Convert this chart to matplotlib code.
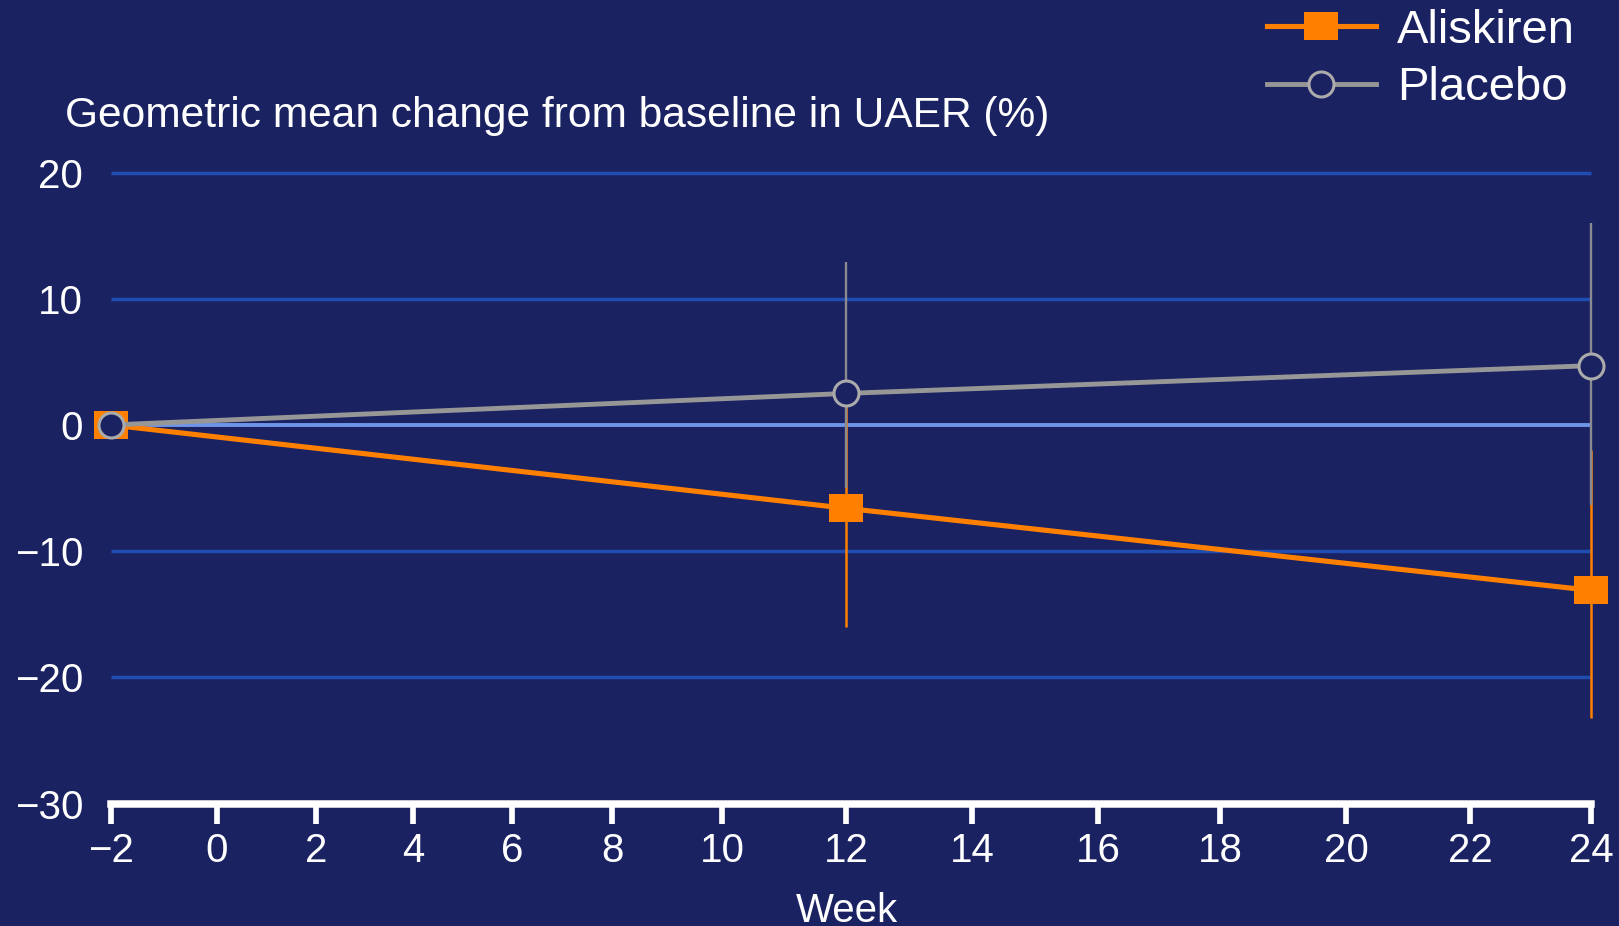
import numpy as np
import matplotlib
matplotlib.use("Agg")
import matplotlib.pyplot as plt
from matplotlib.path import Path
from matplotlib.lines import Line2D
from matplotlib.legend_handler import HandlerLine2D

# ---- data -------------------------------------------------------------
weeks = [-2, 12, 24]

aliskiren_mean = [0.0, -6.6, -13.1]
aliskiren_lower = [0.0, -16.0, -23.2]
aliskiren_upper = [0.0, 3.0, -2.0]

placebo_mean = [0.0, 2.5, 4.7]
placebo_lower = [0.0, -5.0, -6.3]
placebo_upper = [0.0, 12.9, 16.0]

series_names = ["Aliskiren", "Placebo"]
x_ticks = list(range(-2, 25, 2))
y_ticks = [-30, -20, -10, 0, 10, 20]
title_text = "Geometric mean change from baseline in UAER (%)"
x_label = "Week"

# ---- style --------------------------------------------------------------
BG = "#1a2261"
GRID = "#1f4db2"
ZERO = "#6f95e8"
ORANGE = "#ff8000"
GREY_LINE = "#979797"
GREY_EDGE = "#ababab"
GREY_ERR = "#8a8a8f"
WHITE = "white"

plt.rcParams["font.family"] = ["Liberation Sans", "DejaVu Sans"]

W, H, DPI = 1619, 926, 100
fig = plt.figure(figsize=(W / DPI, H / DPI), dpi=DPI, facecolor=BG)

# The week axis of this chart is not evenly spaced: the printed tick
# spacing widens after week 10.  A piecewise-linear scale reproduces it.
_scale_w = [-102] + x_ticks + [124]
_scale_p = [111 - 100 * 52] + [111, 217, 316, 413, 512, 612, 722, 846,
                               972, 1098, 1220, 1346, 1470, 1591] + [1591 + 100 * 62]


def _fwd(w):
    return np.interp(np.asarray(w, float), _scale_w, _scale_p)


def _inv(p):
    return np.interp(np.asarray(p, float), _scale_p, _scale_w)


left_px, right_px = 111, 1591
top_px, bottom_px = 172.5, 803.7
ax = fig.add_axes([left_px / W, 1 - bottom_px / H,
                   (right_px - left_px) / W, (bottom_px - top_px) / H])
ax.set_facecolor(BG)
ax.set_xscale("function", functions=(_fwd, _inv))
ax.set_xlim(x_ticks[0], x_ticks[-1])
ax.set_ylim(y_ticks[0], y_ticks[-1])

# horizontal reference lines
grid_levels = [v for v in y_ticks if v not in (0, y_ticks[0])]
ax.hlines(grid_levels, x_ticks[0], x_ticks[-1], colors=GRID,
          linewidth=2.5, zorder=1, clip_on=False)
ax.hlines([0], x_ticks[0], x_ticks[-1], colors=ZERO,
          linewidth=2.8, zorder=1.5, clip_on=False)

# rectangular marker (slightly wider than tall)
rect = Path([(-0.5, -0.415), (0.5, -0.415), (0.5, 0.415), (-0.5, 0.415),
             (-0.5, -0.415)], closed=True)


def yerr(mean, lo, hi):
    m = np.asarray(mean)
    return [m - np.asarray(lo), np.asarray(hi) - m]


ax.errorbar(weeks, aliskiren_mean,
            yerr=yerr(aliskiren_mean, aliskiren_lower, aliskiren_upper),
            fmt="none", ecolor=ORANGE, elinewidth=1.8, capsize=0,
            zorder=3, clip_on=False)
ali_line, = ax.plot(weeks, aliskiren_mean, color=ORANGE, linewidth=3.7,
                    marker=rect, markersize=23.8, markeredgewidth=0,
                    markerfacecolor=ORANGE, zorder=4, clip_on=False,
                    label=series_names[0])

ax.errorbar(weeks, placebo_mean,
            yerr=yerr(placebo_mean, placebo_lower, placebo_upper),
            fmt="none", ecolor=GREY_ERR, elinewidth=1.7, capsize=0,
            zorder=5, clip_on=False)
pla_line, = ax.plot(weeks, placebo_mean, color=GREY_LINE, linewidth=3.5,
                    marker="o", markersize=18, markeredgewidth=2.2,
                    markeredgecolor=GREY_EDGE, markerfacecolor=BG,
                    zorder=6, clip_on=False, label=series_names[1])

# axes frame: only the bottom axis line
for side in ("left", "right", "top"):
    ax.spines[side].set_visible(False)
ax.spines["bottom"].set_color(WHITE)
ax.spines["bottom"].set_linewidth(5.4)
ax.spines["bottom"].set_zorder(7)

ax.set_xticks(x_ticks)
ax.set_xticklabels([str(t).replace("-", "\u2212") for t in x_ticks])
ax.set_yticks(y_ticks)
ax.set_yticklabels([str(t).replace("-", "\u2212") for t in y_ticks])
ax.tick_params(axis="x", length=14.5, width=4.1, color=WHITE,
               labelcolor=WHITE, labelsize=29, pad=6)
ax.tick_params(axis="y", length=0, labelcolor=WHITE, labelsize=29, pad=20)
ax.minorticks_off()

ax.set_xlabel(x_label, color=WHITE, fontsize=29)
ax.xaxis.set_label_coords((847 - left_px) / (right_px - left_px),
                          -(892 - bottom_px) / (bottom_px - top_px))
ax.xaxis.label.set_va("top")

fig.text(65 / W, 1 - 126.7 / H, title_text, color=WHITE, fontsize=30.6,
         ha="left", va="baseline")


def _thick_handle(legline, orig):
    legline.update_from(orig)
    if legline.get_marker() in ("None", None, ""):
        legline.set_linewidth(4.3)


fig.legend(handles=[ali_line, pla_line], labels=series_names,
           loc="upper left", bbox_to_anchor=(1267 / W, 1 - 9 / H),
           frameon=False, fontsize=34, labelcolor=WHITE,
           handlelength=2.3, handletextpad=0.45, labelspacing=0.28,
           borderpad=0, borderaxespad=0, numpoints=1,
           handler_map={Line2D: HandlerLine2D(update_func=_thick_handle)})

fig.savefig("out.png", dpi=DPI, facecolor=BG)
